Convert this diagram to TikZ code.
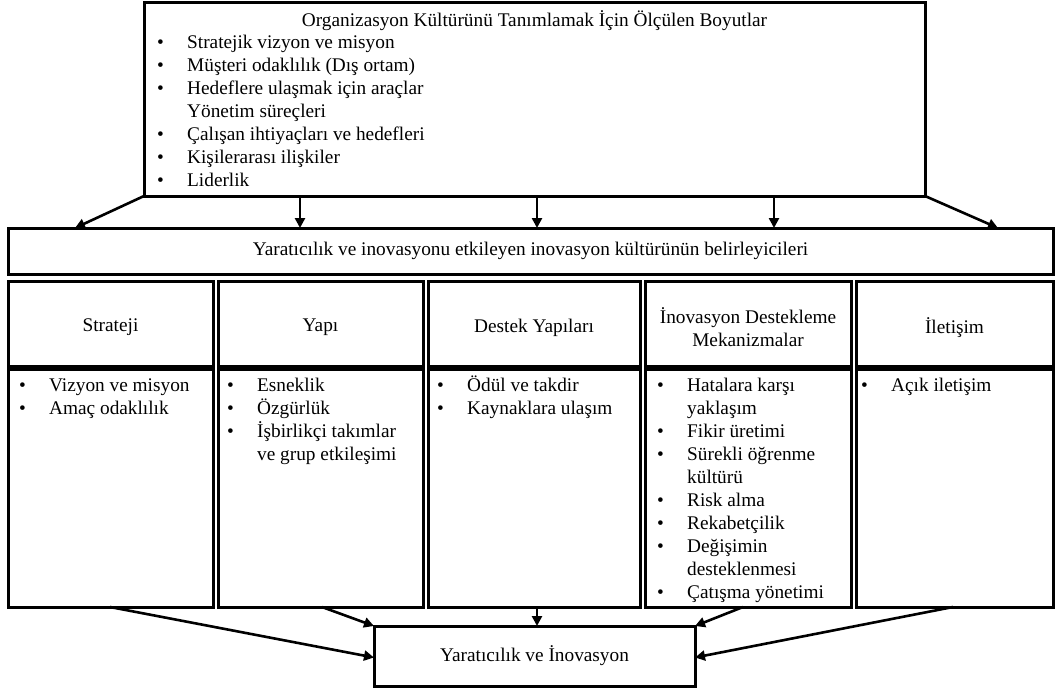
\documentclass[tikz,border=0pt]{standalone}
\usepackage{fontspec}
\setmainfont{Liberation Serif}
\usetikzlibrary{arrows.meta,calc}
\begin{document}
\begin{tikzpicture}[x=1pt,y=-1pt,
  box/.style={draw=black,line width=3pt,rectangle,inner sep=0pt,outer sep=0pt,anchor=north west},
  txt/.style={inner sep=0pt,font=\fontsize{19.3}{23}\selectfont},
  lst/.style={txt,anchor=base west},
  arr/.style={line width=2.6pt,-{Triangle[length=10pt,width=10pt]}},
]
\useasboundingbox (0,0) rectangle (1059,690);

% frames
\node[box,minimum width=781pt,minimum height=193pt] (top) at (144,3) {};
\node[box,minimum width=1045pt,minimum height=46pt] (det) at (8,228) {};
\node[box,minimum width=205pt,minimum height=85pt] (h1) at (8,281) {};
\node[box,minimum width=205pt,minimum height=85pt] (h2) at (218,281) {};
\node[box,minimum width=212pt,minimum height=85pt] (h3) at (428,281) {};
\node[box,minimum width=206pt,minimum height=85pt] (h4) at (645,281) {};
\node[box,minimum width=197pt,minimum height=85pt] (h5) at (856,281) {};
\node[box,minimum width=205pt,minimum height=238pt] (b1) at (8,369) {};
\node[box,minimum width=205pt,minimum height=238pt] (b2) at (218,369) {};
\node[box,minimum width=212pt,minimum height=238pt] (b3) at (428,369) {};
\node[box,minimum width=206pt,minimum height=238pt] (b4) at (645,369) {};
\node[box,minimum width=197pt,minimum height=238pt] (b5) at (856,369) {};
\node[box,minimum width=321pt,minimum height=60pt] (yi) at (374,626) {};

% texts
\node[txt,anchor=base] (ttl) at (534.5,27) {Organizasyon Kültürünü Tanımlamak İçin Ölçülen Boyutlar};
\node[lst] (toplist) at (157,49) {\begin{tabular}[t]{@{}p{30pt}@{}l@{}}
\textbullet & Stratejik vizyon ve misyon\\
\textbullet & Müşteri odaklılık (Dış ortam)\\
\textbullet & Hedeflere ulaşmak için araçlar\\
 & Yönetim süreçleri\\
\textbullet & Çalışan ihtiyaçları ve hedefleri\\
\textbullet & Kişilerarası ilişkiler\\
\textbullet & Liderlik
\end{tabular}};
\node[txt] (dett) at (det.center) {Yaratıcılık ve inovasyonu etkileyen inovasyon kültürünün belirleyicileri};
\node[txt] (t1) at ([yshift=-4pt]h1.center) {Strateji};
\node[txt] (t2) at ([yshift=-4pt]h2.center) {Yapı};
\node[txt] (t3) at ([yshift=-4pt]h3.center) {Destek Yapıları};
\node[txt,align=center] (t4) at ([yshift=-4pt]h4.center) {İnovasyon Destekleme\\Mekanizmalar};
\node[txt] (t5) at ([yshift=-4pt]h5.center) {İletişim};

\node[lst] (l1) at (19,391) {\begin{tabular}[t]{@{}p{30pt}@{}l@{}}
\textbullet & Vizyon ve misyon\\
\textbullet & Amaç odaklılık
\end{tabular}};
\node[lst] (l2) at (227,391) {\begin{tabular}[t]{@{}p{30pt}@{}l@{}}
\textbullet & Esneklik\\
\textbullet & Özgürlük\\
\textbullet & İşbirlikçi takımlar\\
 & ve grup etkileşimi
\end{tabular}};
\node[lst] (l3) at (437,391) {\begin{tabular}[t]{@{}p{30pt}@{}l@{}}
\textbullet & Ödül ve takdir\\
\textbullet & Kaynaklara ulaşım
\end{tabular}};
\node[lst] (l4) at (657,391) {\begin{tabular}[t]{@{}p{30pt}@{}l@{}}
\textbullet & Hatalara karşı\\
 & yaklaşım\\
\textbullet & Fikir üretimi\\
\textbullet & Sürekli öğrenme\\
 & kültürü\\
\textbullet & Risk alma\\
\textbullet & Rekabetçilik\\
\textbullet & Değişimin\\
 & desteklenmesi\\
\textbullet & Çatışma yönetimi
\end{tabular}};
\node[lst] (l5) at (861,391) {\begin{tabular}[t]{@{}p{30pt}@{}l@{}}
\textbullet & Açık iletişim
\end{tabular}};

% connectors from the top frame
\draw[arr] (top.south west) -- ([xshift=67pt]det.north west);
\draw[arr] ([xshift=156pt]top.south west) -- ([xshift=156pt]top.south west |- det.north);
\draw[arr] ([xshift=393pt]top.south west) -- ([xshift=393pt]top.south west |- det.north);
\draw[arr] ([xshift=630pt]top.south west) -- ([xshift=630pt]top.south west |- det.north);
\draw[arr] (top.south east) -- ([xshift=-55pt]det.north east);

% connectors into the bottom frame
\draw[arr] ([xshift=102pt]b1.south west) -- ([yshift=-1.5pt]yi.west);
\draw[arr] ([xshift=104pt]b2.south west) -- (yi.north west);
\draw[arr] ([xshift=3pt]b3.south) -- ([xshift=3pt]b3.south |- yi.north);
\draw[arr] ([xshift=98pt]b4.south west) -- (yi.north east);
\draw[arr] ([xshift=97pt]b5.south west) -- ([yshift=-1.5pt]yi.east);

\node[txt] (yit) at (yi.center) {Yaratıcılık ve İnovasyon};
\end{tikzpicture}
\end{document}
